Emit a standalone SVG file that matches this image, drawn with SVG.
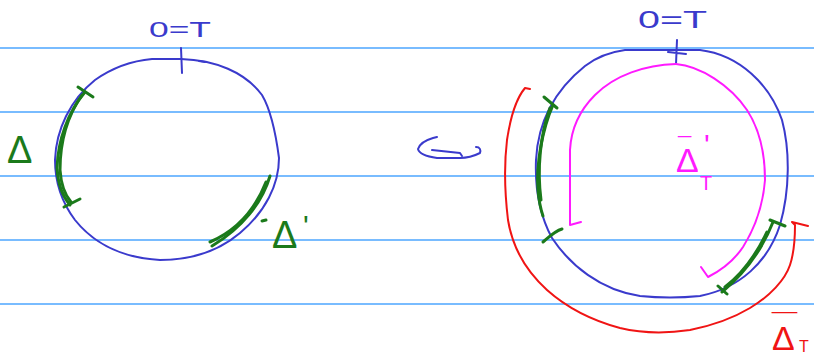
<svg xmlns="http://www.w3.org/2000/svg" width="814" height="358" viewBox="0 0 814 358">
<style>
.rule{stroke:#4da6ff;stroke-width:1.5;fill:none}
.s{fill:none;stroke-linecap:round;stroke-linejoin:round}
.blue{stroke:#3a3acc;stroke-width:2}
.green{stroke:#1b7a1b;stroke-width:3}
.pink{stroke:#ff1aff;stroke-width:2}
.red{stroke:#f01414;stroke-width:2}
.t{font-family:"Liberation Sans","DejaVu Sans",sans-serif}
</style>
<rect width="814" height="358" fill="#ffffff"/>
<g id="rules">
<line class="rule" x1="0" y1="48" x2="814" y2="48"/>
<line class="rule" x1="0" y1="112" x2="814" y2="112"/>
<line class="rule" x1="0" y1="176" x2="814" y2="176"/>
<line class="rule" x1="0" y1="240" x2="814" y2="240"/>
<line class="rule" x1="0" y1="304" x2="814" y2="304"/>
</g>
<g id="left-circle">
<path class="s blue" d="M152,59 L181,59 C215,60 245,72 262,95 C272,112 276,135 279,158 C279,185 265,212 240,233 C220,250 195,260 160,260 C125,258 95,245 75,220 C60,200 55,180 55,160 C56,130 70,100 95,80 C112,68 130,61 152,59 Z"/>
<path class="s blue" d="M181,48 L182,73"/>
<path class="s blue" d="M199,61 L205,62"/>
<text class="t" x="149" y="37" font-size="22" fill="#3a3acc" textLength="62" lengthAdjust="spacingAndGlyphs">0=T</text>
</g>
<g id="left-green">
<path class="s green" d="M85,92 C68,112 58,140 57,168 C58,186 63,197 70,205"/>
<path class="s green" stroke-width="1.5" d="M82,95 C66,118 60,145 60,170 C61,185 65,195 71,202"/>
<path class="s green" d="M78,87 L93,97 M64,207 L80,199"/>
<path class="s green" d="M270,176 C262,203 242,228 212,246"/>
<path class="s green" stroke-width="1.5" d="M266,182 C255,210 238,230 210,242"/>
<path class="s green" stroke-width="1.5" d="M262,221 L266,220"/>
<text class="t" x="7" y="163" font-size="38" fill="#1b7a1b">Δ</text>
<text class="t" x="272" y="248" font-size="38" fill="#1b7a1b">Δ<tspan x="303" y="236" font-size="30">'</tspan></text>
</g>
<g id="equiv">
<path class="s blue" d="M437,137 L433,138 C426,140 420,143 418,149 C419,153 423,156 437,158 L460,158 C468,158 474,156 480,153 C481,150 480,147 476,147"/>
<path class="s blue" d="M432,150 L460,153 L462,156"/>
</g>
<g id="right-circle">
<path class="s blue" d="M625,50 L700,50 C740,55 770,85 782,120 C790,150 790,190 780,225 C768,262 740,288 700,296 C680,298 660,298 640,296 C600,290 570,265 552,238 C538,212 535,185 536,160 C538,120 555,90 585,66 C598,56 610,52 625,50 Z"/>
<path class="s blue" d="M677,40 L676,64 M668,52 L686,54"/>
<text class="t" x="638" y="28" font-size="23" fill="#3a3acc" textLength="69" lengthAdjust="spacingAndGlyphs">0=T</text>
</g>
<g id="pink-path">
<path class="s pink" d="M676,64 C645,65 615,75 595,95 C578,112 571,130 570,150 L570,225 L581,222"/>
<path class="s pink" d="M676,64 C700,66 730,85 747,110 C760,130 765,155 765,180 C763,205 755,228 743,247 C733,262 722,270 708,277 L701,267"/>
<text class="t" fill="#ff1aff"><tspan x="678" y="154" font-size="24">¯</tspan><tspan x="676" y="172" font-size="34">Δ</tspan><tspan x="704" y="155" font-size="30">'</tspan><tspan x="700" y="190" font-size="20">T</tspan></text>
</g>
<g id="right-green">
<path class="s green" d="M553,105 C542,130 536,165 538,190 C539,203 541,210 543,216"/>
<path class="s green" stroke-width="1.5" d="M550,108 C540,135 537,170 541,200"/>
<path class="s green" d="M544,97 L557,108"/>
<path class="s green" stroke-width="2" d="M543,242 C550,236 555,231 562,229"/>
<path class="s green" d="M773,222 C762,250 746,272 722,292"/>
<path class="s green" stroke-width="1.5" d="M767,232 C756,255 742,274 725,287"/>
<path class="s green" d="M770,220 L785,226 M718,286 L727,294"/>
</g>
<g id="red-path">
<path class="s red" d="M530,89 L525,88 C515,100 510,120 507,140 C504,165 505,195 508,220 C512,245 525,270 547,290 C565,306 590,320 620,328 C645,334 670,333 690,330 C710,326 730,320 750,308 C770,296 785,280 790,265 C795,250 795,235 795,225 L792,222 L808,226"/>
<text class="t" fill="#f01414"><tspan x="772" y="330" font-size="24" textLength="25" lengthAdjust="spacingAndGlyphs">¯</tspan><tspan x="772" y="350" font-size="34">Δ</tspan><tspan x="799" y="352" font-size="16">T</tspan></text>
</g>
</svg>
